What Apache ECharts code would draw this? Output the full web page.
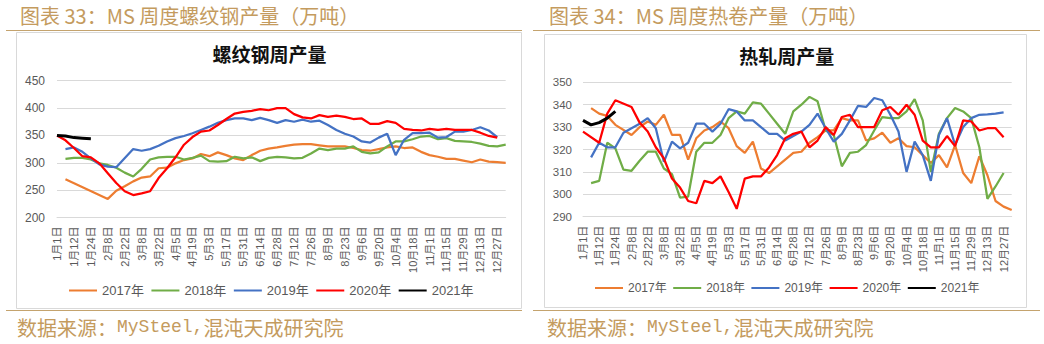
<!DOCTYPE html>
<html><head><meta charset="utf-8">
<script src="https://cdn.jsdelivr.net/npm/echarts@6/dist/echarts.min.js"></script>
<style>html,body{margin:0;padding:0;background:#fff;}#c{width:1044px;height:344px;}</style>
</head><body><div id="c"></div>
<script>
// ---- categories (weekly dates; labels every other week) ----
const categories = ['1月1日','1月5日','1月12日','1月18日','1月24日','2月1日','2月8日','2月15日','2月22日','3月1日',
  '3月8日','3月15日','3月22日','3月29日','4月5日','4月12日','4月19日','4月26日','5月3日','5月10日',
  '5月17日','5月24日','5月31日','6月7日','6月14日','6月21日','6月28日','7月5日','7月12日','7月19日',
  '7月26日','8月2日','8月9日','8月16日','8月23日','8月30日','9月6日','9月13日','9月20日','9月27日',
  '10月4日','10月11日','10月18日','10月25日','11月1日','11月8日','11月15日','11月22日','11月29日','12月6日',
  '12月13日','12月20日','12月27日','12月31日'];
const years = ['2017年','2018年','2019年','2020年','2021年'];

// ---- 螺纹钢周产量 (万吨) ----
const rebar2017 = [null,270,null,null,null,null,234,249,257,266,273,275,290,291,299,305,308,316,312,319,314,308,305,314,322,326,328,331,333,334,334,332,330,330,330,327,323,322,325,328,330,327,328,320,314,311,307,307,304,301,306,302,301,300];
const rebar2018 = [null,307,309,309,306,299,296,291,282,275,289,306,310,311,311,306,309,313,303,302,303,311,308,310,303,309,311,310,308,309,317,326,323,326,326,330,320,317,319,330,339,339,343,348,349,343,345,340,339,338,335,331,330,333];
const rebar2019 = [null,325,328,320,308,297,293,292,null,325,322,325,331,339,345,349,354,360,366,373,378,381,381,378,382,378,373,378,375,379,375,377,369,360,353,348,339,337,346,353,314,342,354,354,355,346,347,357,357,360,365,359,347];
const rebar2020 = [350,341,327,312,310,299,281,263,248,241,244,248,272,290,310,333,347,357,359,369,380,390,393,395,398,396,400,400,389,383,381,387,384,386,384,380,381,371,371,376,373,362,360,359,362,360,362,360,360,360,355,349,346];
const rebar2021 = [350,349,346,345,344];
const rebarAxis = {min:200, max:450, step:50};

// ---- 热轧周产量 (万吨) ----
const hot2017 = [null,338.5,336,335,331,null,326.5,330,332.5,331,335.5,326.5,326.5,315.5,325,328.5,330,332.5,329.5,321.5,318.5,323.5,311.5,309.5,312.5,315.5,318.5,319,323,325.5,328.5,328.5,334,333,333,324,325,327.5,323,325,321.5,321,317.5,314,317.5,312,322,309.5,305,317,308.5,297,294.5,293];
const hot2018 = [null,305,306,323,320.5,311,310.5,315,319,319,311.5,309,298.5,299,319,323,323,326.5,334,337,336,341,340.5,336,331.5,327,337,340,343.5,341.5,328.5,326.5,312.5,318.5,319,322,328.5,334.5,334,334,337,342.5,333,310,327,334,338.5,337,334,321,298,303.5,309.5];
const hot2019 = [null,316.5,323,321,321,327.5,329.5,331.5,334,329.5,314.5,323.5,320.5,323,331.5,331.5,328,331.5,338,337,333,333,330,327,327,324,326,328,331,336,329.5,323.5,327,333,339.5,339,343,342,335.5,328,310,323.5,317.5,306,326.5,334,322,330,334,335.5,335.7,336,336.6];
const hot2020 = [328,null,323,336,342,null,339,332,328,321,316,307,303,297,296,306,305,308,301,293.5,307,308,308,312,317.5,325,327,328,321,324,330,326.5,334.5,335.5,330,330,330,337.5,339,335.5,340,335.5,324,321,321,326,321.5,333,332.5,328.5,329.5,329.5,325.5];
const hot2021 = [333,331,332,334,337];
const hotAxis = {min:290, max:350, step:10};

const colors = ['#ED7D31','#70AD47','#4472C4','#FF0000','#000000'];
const FONT = "'Liberation Sans','Noto Sans CJK SC',sans-serif";
const CJK = "'Noto Sans CJK SC',sans-serif";
const GOLD = '#C49B5E';

function makeSeries(g, arrs){
  return arrs.map((d,k)=>({
    name: years[k], type:'line', xAxisIndex:g, yAxisIndex:g, data:d,
    showSymbol:false, symbol:'none', connectNulls:true, animation:false,
    lineStyle:{width: k===4 ? 3 : 2.25, color: colors[k]}, itemStyle:{color: colors[k]}, z: 2+k
  }));
}
function xAx(g){
  return {gridIndex:g, type:'category', data:categories, boundaryGap:false,
    axisLine:{lineStyle:{color:'#D9D9D9', width:1}}, axisTick:{show:false},
    axisLabel:{interval:1, rotate:90, fontSize:11, color:'#595959', margin:9, fontFamily:FONT},
    splitLine:{show:false}};
}
function yAx(g, ax, fs, margin){
  return {gridIndex:g, type:'value', min:ax.min, max:ax.max, interval:ax.step,
    axisLine:{show:false}, axisTick:{show:false},
    axisLabel:{fontSize:fs, color:'#595959', margin:margin, fontFamily:FONT},
    splitLine:{lineStyle:{color:'#D9D9D9', width:1}}};
}
function legend(left, top, fs, gap){
  return {data:years, left:left, top:top, orient:'horizontal', icon:'rect', itemWidth:28, itemHeight:2,
    itemGap:gap, padding:0, selectedMode:false, textStyle:{fontSize:fs, color:'#595959', fontFamily:FONT}};
}
function hline(x1,x2,y){ return {type:'line', shape:{x1:x1,y1:y,x2:x2,y2:y}, style:{stroke:'#C4A36E', lineWidth:1.2}, silent:true}; }
function box(x,y,w,h){ return {type:'rect', shape:{x:x,y:y,width:w,height:h}, style:{fill:null, stroke:'#D9D9D9', lineWidth:1}, silent:true, z:-10}; }
function txt(x,y,text,opt){
  return {type:'text', silent:true, style:Object.assign({x:x,y:y,text:text, align:'left', textAlign:'left', verticalAlign:'middle', textVerticalAlign:'middle'}, opt)};
}
function header(x,y,text){ return txt(x,y,text,{fill:GOLD, font:"normal 20px "+CJK}); }
function source(x,y){
  return txt(x,y,'{a|数据来源：}{b|MySteel,}{a|混沌天成研究院}',{
    rich:{a:{fontSize:20, fontFamily:CJK, fill:GOLD, color:GOLD}, b:{fontSize:18, fontFamily:"'Liberation Mono',monospace", fill:GOLD, color:GOLD}}
  });
}
function ctitle(x,y,text){ return txt(x,y,text,{fill:'#111', font:"bold 19px "+CJK, align:'center', textAlign:'center'}); }

const chart = echarts.init(document.getElementById('c'), null, {renderer:'svg', width:1044, height:344});
chart.setOption({
  animation:false,
  backgroundColor:'#ffffff',
  grid:[
    {left:57, right:1044-505.7, top:80.7, bottom:344-217.5, outerBoundsMode:'none', containLabel:false},
    {left:583, right:1044-1011.7, top:82.3, bottom:344-216.7, outerBoundsMode:'none', containLabel:false}
  ],
  xAxis:[xAx(0), xAx(1)],
  yAxis:[yAx(0, rebarAxis, 12, 12), yAx(1, hotAxis, 11.5, 11)],
  legend:[legend(69, 284, 13, 7.5), legend(595, 282, 12, 6.5)],
  series: makeSeries(0,[rebar2017,rebar2018,rebar2019,rebar2020,rebar2021])
    .concat(makeSeries(1,[hot2017,hot2018,hot2019,hot2020,hot2021])),
  graphic:[
    box(16.5,32.5,505,276), box(544.5,34.5,482,273),
    hline(6,522,30.5), hline(6,522,310.5), hline(533,1040,30.5), hline(533,1040,310.5),
    header(20,15,'图表 33：MS 周度螺纹钢产量（万吨）'),
    header(549,15,'图表 34：MS 周度热卷产量（万吨）'),
    ctitle(269.5,53,'螺纹钢周产量'),
    ctitle(786.7,55,'热轧周产量'),
    source(17,327), source(547,327)
  ]
});
</script></body></html>
